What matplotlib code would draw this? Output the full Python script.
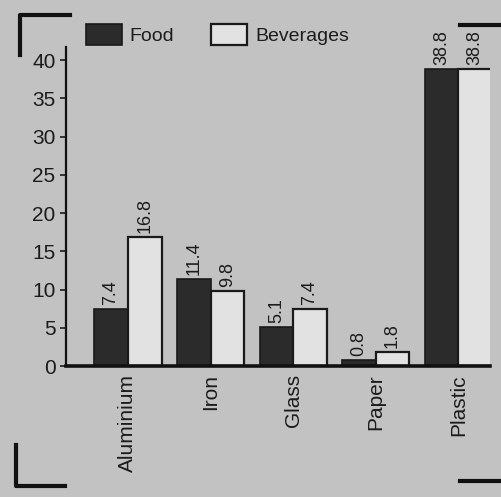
import numpy as np
import matplotlib
matplotlib.use("Agg")
import matplotlib.pyplot as plt
from matplotlib.lines import Line2D

# data
materials = ["Aluminium", "Iron", "Glass", "Paper", "Plastic"]
food = [7.4, 11.4, 5.1, 0.8, 38.8]
beverages = [16.8, 9.8, 7.4, 1.8, 38.8]
yticks = [0, 5, 10, 15, 20, 25, 30, 35, 40]

plt.rcParams['font.family'] = ['Liberation Sans', 'DejaVu Sans']
bg = '#c2c2c2'
ink = '#1c1c1c'

fig = plt.figure(figsize=(5.02, 4.97), dpi=100, facecolor=bg)
ax = fig.add_axes([66/502, 1-366/497, (490-66)/502, (366-47)/497])
ax.set_facecolor(bg)

x = np.arange(len(materials)) * 0.995
w = 0.405
b1 = ax.bar(x - w/2, food, w, color='#2b2b2b', edgecolor='#1a1a1a',
            linewidth=1.2, label='Food')
b2 = ax.bar(x + w/2, beverages, w, color='#e2e2e2', edgecolor='#1a1a1a',
            linewidth=1.6, label='Beverages')

for bars, vals in ((b1, food), (b2, beverages)):
    for r, v in zip(bars, vals):
        ax.annotate(f"{v:.1f}", (r.get_x() + r.get_width()/2, r.get_height()),
                    xytext=(0, 3), textcoords='offset points', rotation=90,
                    ha='center', va='bottom', fontsize=13, color=ink)

ax.set_xlim(-0.745, 4.36)
ax.set_ylim(0, 41.7)
ax.set_yticks(yticks)
ax.set_xticks(x)
ax.set_xticklabels(materials, rotation=90, fontsize=15, color=ink)
ax.tick_params(axis='y', labelsize=15, colors=ink, length=4, width=1.2)
ax.tick_params(axis='x', length=0, pad=6)
for s in ('top', 'right'):
    ax.spines[s].set_visible(False)
for s in ('left', 'bottom'):
    ax.spines[s].set_color('#111111')
ax.spines['left'].set_linewidth(1.6)
ax.spines['bottom'].set_linewidth(2.6)

fig.legend(loc='upper left', bbox_to_anchor=(86/502, 1-24/497), ncol=2,
           frameon=False, fontsize=14, handlelength=1.85, handleheight=1.3,
           handletextpad=0.4, columnspacing=1.9, borderpad=0, borderaxespad=0,
           labelcolor=ink)

# crop marks from the scan
marks = [
    ([20, 20, 70], [55, 15, 15]),
    ([460, 502], [25, 25]),
    ([16, 16, 65], [445, 486, 486]),
    ([460, 502], [481, 481]),
]
for mx, my in marks:
    fig.add_artist(Line2D(np.array(mx)/502, 1-np.array(my)/497, color='#111111',
                          linewidth=3, transform=fig.transFigure))

fig.savefig('out.png', dpi=100, facecolor=bg)
